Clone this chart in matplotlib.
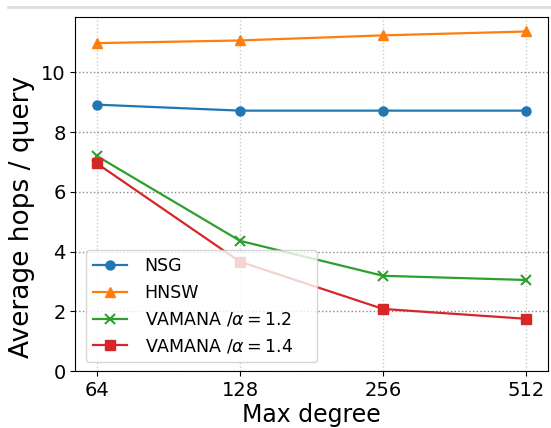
import matplotlib
matplotlib.use('Agg')
from matplotlib import pyplot as plt
from matplotlib.lines import Line2D

# Dane
degrees = [64, 128, 256, 512]
tick_labels = ['64', '128', '256', '512']
nsg = [8.92, 8.72, 8.72, 8.72]
hnsw = [10.98, 11.07, 11.24, 11.37]
vamana_12 = [7.2, 4.36, 3.19, 3.05]
vamana_14 = [6.95, 3.66, 2.08, 1.75]

fig = plt.figure(figsize=(5.51, 4.28), dpi=100)
ax = fig.add_axes([0.137, 0.133, 0.857, 0.827])

ax.plot(degrees, nsg, marker='o', color='#1f77b4', lw=1.6, ms=6.5, label='NSG')
ax.plot(degrees, hnsw, marker='^', color='#ff7f0e', lw=1.6, ms=6.5, label='HNSW')
ax.plot(degrees, vamana_12, marker='x', color='#2ca02c', lw=1.6, ms=6.5, mew=1.5,
        label=r'VAMANA /$\alpha = 1.2$')
ax.plot(degrees, vamana_14, marker='s', color='#d62728', lw=1.6, ms=6.5,
        label=r'VAMANA /$\alpha = 1.4$')

ax.set_xscale('log', base=2)
ax.set_xticks(degrees)
ax.set_xticklabels(tick_labels)
ax.minorticks_off()
ax.set_ylim(bottom=0)
ax.set_yticks([0, 2, 4, 6, 8, 10])

ax.grid(True, axis='y', linestyle=':', color='#888888', lw=1.0)
ax.grid(True, axis='x', linestyle=':', color='#cccccc', lw=1.0)

ax.tick_params(labelsize=14)
ax.set_xlabel('Max degree', fontsize=17, labelpad=2)
ax.set_ylabel('Average hops / query', fontsize=19)
ax.yaxis.set_label_coords(-0.086, 0.435)

ax.legend(loc='lower left', fontsize=12.5, framealpha=0.8, handletextpad=1.0,
          bbox_to_anchor=(0.003, 0.0, 0.527, 0.3), mode='expand')

# szara linia na górze obrazka
fig.add_artist(Line2D([0.015, 1.0], [0.984, 0.984], color='#dddddd', lw=2,
                      transform=fig.transFigure))

fig.savefig('out.png', dpi=100)
